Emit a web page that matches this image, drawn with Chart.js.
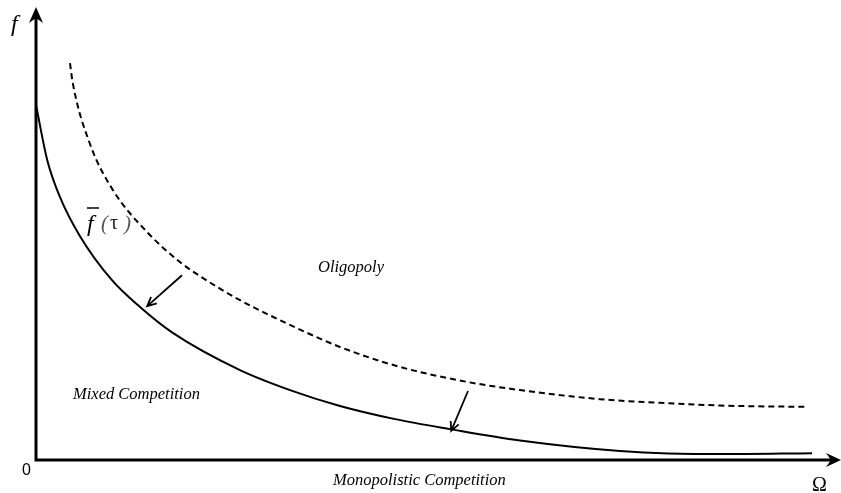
<!DOCTYPE html>
<html>
<head>
<meta charset="utf-8">
<script src="https://cdn.jsdelivr.net/npm/chart.js@4.4.1/dist/chart.umd.min.js"></script>
<style>
  html, body { margin: 0; padding: 0; background: #fff; }
  #wrap { width: 841px; height: 493px; }
</style>
</head>
<body>
<div id="wrap"><canvas id="chart"></canvas></div>
<script>
// curve values (x: 0..100, y: 0..100)
const solidX = [0, 1.4, 3.0, 5.5, 9.5, 13, 17.1, 25.5, 31.75, 38, 44.9, 51.75, 60.5, 73, 85.5, 97];
const solidY = [78.2, 66.1, 57.9, 49.3, 39.6, 33.7, 28.0, 19.8, 15.4, 11.9, 9.0, 6.8, 4.3, 2.0, 1.3, 1.5];
const dashX = [4.25, 4.6, 6.75, 9.6, 14, 18, 20.5, 25.5, 30.5, 38, 45.5, 53.9, 60.5, 70.5, 78, 85.5, 96.1];
const dashY = [87.4, 83.0, 69.6, 59.5, 50.0, 43.6, 40.5, 35.2, 30.8, 24.9, 20.5, 17.2, 15.4, 13.4, 12.6, 12.0, 11.7];

// shift arrows: [fromX, fromY, toX, toY]
const shiftArrows = [
    [18.25, 40.7, 13.9, 33.9],
    [54, 15.2, 51.9, 6.4]
];

const toPoints = (xs, ys) => xs.map((x, i) => ({ x: x, y: ys[i] }));

const serif = '"Liberation Serif", "DejaVu Serif", serif';

const decor = {
    id: 'decor',
    afterDraw(chart) {
        const ctx = chart.ctx;
        const xs = chart.scales.x, ys = chart.scales.y;
        const a = chart.chartArea;
        const ox = a.left, oy = a.bottom;
        ctx.save();
        ctx.fillStyle = '#000';
        ctx.strokeStyle = '#000';

        // axes
        ctx.lineWidth = 3;
        ctx.beginPath();
        ctx.moveTo(ox, oy + 1.5);
        ctx.lineTo(ox, 14);
        ctx.moveTo(ox - 1.5, oy);
        ctx.lineTo(832, oy);
        ctx.stroke();
        // y arrow head
        ctx.beginPath();
        ctx.moveTo(ox, 7);
        ctx.lineTo(ox + 7, 23);
        ctx.lineTo(ox, 18);
        ctx.lineTo(ox - 7, 23);
        ctx.closePath();
        ctx.fill();
        // x arrow head
        ctx.beginPath();
        ctx.moveTo(841, oy);
        ctx.lineTo(826, oy + 7);
        ctx.lineTo(831, oy);
        ctx.lineTo(826, oy - 7);
        ctx.closePath();
        ctx.fill();

        // shift arrows
        ctx.lineWidth = 1.8;
        shiftArrows.forEach(ar => {
            const x1 = xs.getPixelForValue(ar[0]), y1 = ys.getPixelForValue(ar[1]);
            const x2 = xs.getPixelForValue(ar[2]), y2 = ys.getPixelForValue(ar[3]);
            const ang = Math.atan2(y2 - y1, x2 - x1);
            ctx.beginPath();
            ctx.moveTo(x1, y1);
            ctx.lineTo(x2, y2);
            ctx.moveTo(x2 - 10 * Math.cos(ang - 0.45), y2 - 10 * Math.sin(ang - 0.45));
            ctx.lineTo(x2, y2);
            ctx.lineTo(x2 - 10 * Math.cos(ang + 0.45), y2 - 10 * Math.sin(ang + 0.45));
            ctx.stroke();
        });

        // texts
        ctx.textBaseline = 'alphabetic';
        ctx.font = 'italic 24px ' + serif;
        ctx.fillText('f', 11, 31);
        ctx.font = '20px ' + serif;
        ctx.fillText('Ω', 812, 491);
        ctx.font = '16px "Liberation Sans", Arial, sans-serif';
        ctx.fillText('0', 22, 475);

        ctx.font = 'italic 16.5px ' + serif;
        ctx.fillText('Oligopoly', 318, 272);
        ctx.fillText('Mixed Competition', 73, 399);
        ctx.fillText('Monopolistic Competition', 333, 485);

        // f-bar(tau)
        ctx.font = 'italic 24px ' + serif;
        ctx.fillText('f', 87, 231);
        ctx.lineWidth = 1.5;
        ctx.beginPath();
        ctx.moveTo(87, 208);
        ctx.lineTo(99, 208);
        ctx.stroke();
        ctx.fillStyle = '#555';
        ctx.font = 'italic 21px ' + serif;
        ctx.fillText('(', 101, 230);
        ctx.fillText(')', 124, 230);
        ctx.fillStyle = '#222';
        ctx.font = '20px ' + serif;
        ctx.fillText('τ', 110, 229);
        ctx.restore();
    }
};

new Chart(document.getElementById('chart').getContext('2d'), {
    type: 'line',
    data: {
        datasets: [{
            label: 'f(tau)',
            data: toPoints(solidX, solidY),
            borderColor: '#000',
            borderWidth: 2,
            pointRadius: 0,
            cubicInterpolationMode: 'monotone',
            fill: false
        }, {
            label: 'dashed',
            data: toPoints(dashX, dashY),
            borderColor: '#000',
            borderWidth: 2,
            borderDash: [6, 4],
            pointRadius: 0,
            cubicInterpolationMode: 'monotone',
            fill: false
        }]
    },
    options: {
        responsive: true,
        maintainAspectRatio: false,
        animation: false,
        layout: { padding: { left: 36, right: 5, top: 6, bottom: 33 } },
        plugins: {
            legend: { display: false },
            tooltip: { enabled: false }
        },
        scales: {
            x: { type: 'linear', min: 0, max: 100, display: false },
            y: { type: 'linear', min: 0, max: 100, display: false }
        }
    },
    plugins: [decor]
});
</script>
</body>
</html>
